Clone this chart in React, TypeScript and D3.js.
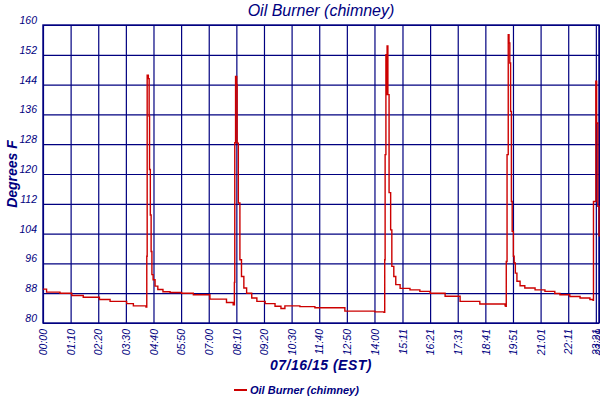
import { useRef, useEffect } from "react";
import * as d3 from "d3";

// minutes since midnight of each reading
const sampleMinutes: number[] = [
  0, 9, 43, 73, 102, 143, 170, 212, 229, 261, 263, 264, 267, 269, 270, 272, 274, 276, 279, 284,
  291, 304, 322, 351, 381, 423, 465, 482, 485, 486, 488, 491, 492, 495, 499, 503, 509, 516, 529, 542,
  563, 588, 603, 613, 631, 651, 689, 765, 841, 864, 866, 867, 869, 871, 872, 874, 877, 881, 884, 889,
  894, 905, 930, 955, 981, 1019, 1057, 1107, 1171, 1173, 1174, 1176, 1179, 1181, 1183, 1185, 1187, 1189, 1192, 1194,
  1197, 1201, 1209, 1221, 1247, 1272, 1297, 1310, 1335, 1361, 1386, 1394, 1395, 1401, 1403, 1406, 1409,
];

// chimney temperature, degrees F
const sampleTemps: number[] = [
  89.1, 88.3, 88.0, 87.4, 86.9, 86.3, 85.8, 85.2, 84.6, 84.3, 97.9, 146.5, 145.6, 135.5, 121.2, 109, 99.2, 93, 91.6, 89.9,
  89.0, 88.4, 88.2, 88.0, 87.6, 86.4, 85.5, 84.9, 90.9, 128.4, 146.2, 144.0, 128.3, 112.2, 97, 92.5, 89.4, 88.0, 86.7, 85.8,
  85.2, 84.5, 83.9, 84.6, 84.6, 84.4, 84.1, 83.2, 83.0, 82.9, 97, 125.2, 152, 141.3, 154.4, 141.3, 115, 105, 95.2, 92.5,
  90.3, 89.3, 88.9, 88.5, 88.0, 87.2, 85.8, 85.1, 84.6, 84.5, 96.5, 125.2, 157.4, 155.2, 149.8, 136.8, 112.6, 104.6, 97.9, 96.1,
  93.4, 91.2, 90.0, 89.4, 88.9, 88.5, 87.9, 87.6, 87.1, 86.7, 86.3, 86.1, 112.6, 144.9, 133.7, 111.3, 103.2,
];

const tickMinutes: number[] = [
  0, 70, 140, 210, 280, 350, 420, 490, 560, 630, 700, 770, 840, 911, 981, 1051, 1121, 1191, 1261, 1331, 1401, 1409,
];
const tickLabels: string[] = [
  "00:00", "01:10", "02:20", "03:30", "04:40", "05:50", "07:00", "08:10", "09:20", "10:30", "11:40",
  "12:50", "14:00", "15:11", "16:21", "17:31", "18:41", "19:51", "21:01", "22:11", "23:21", "23:29",
];
const yTicks: number[] = [80, 88, 96, 104, 112, 120, 128, 136, 144, 152, 160];

const seriesName = "Oil Burner (chimney)";
const dateLabel = "07/16/15 (EST)";

export default function App() {
  const svgRef = useRef<SVGSVGElement>(null);

  useEffect(() => {
    const width = 600;
    const height = 400;
    const margin = { top: 25, right: 1, bottom: 77, left: 43 };
    const innerWidth = width - margin.left - margin.right;
    const innerHeight = height - margin.top - margin.bottom;
    const navy = "#000080";
    const font = "'Liberation Sans', Arial, sans-serif";

    const svg = d3.select(svgRef.current);
    svg.selectAll("*").remove();

    const g = svg.append("g")
      .attr("transform", `translate(${margin.left},${margin.top})`);

    const xScale = d3.scaleLinear()
      .domain([0, tickMinutes[tickMinutes.length - 1]])
      .range([0, innerWidth]);

    const yScale = d3.scaleLinear()
      .domain([80, 160])
      .range([innerHeight, 0]);

    // horizontal grid + y labels
    g.append("g")
      .call(d3.axisLeft(yScale).tickValues(yTicks).tickSize(-innerWidth).tickPadding(6).tickFormat(d3.format("d")))
      .call(ax => ax.select(".domain").remove())
      .call(ax => ax.selectAll("line").attr("stroke", navy).attr("stroke-width", 1.2))
      .call(ax => ax.selectAll("text")
        .attr("fill", navy)
        .attr("font-family", font)
        .attr("font-style", "italic")
        .attr("font-size", "10.5px")
        .attr("dy", "-0.15em"));

    // vertical grid + rotated time labels
    g.append("g")
      .attr("transform", `translate(0,${innerHeight})`)
      .call(d3.axisBottom(xScale).tickValues(tickMinutes).tickSize(-innerHeight).tickFormat((_, i) => tickLabels[i]))
      .call(ax => ax.select(".domain").remove())
      .call(ax => ax.selectAll("line").attr("stroke", navy).attr("stroke-width", 1.2))
      .call(ax => ax.selectAll("text")
        .attr("fill", navy)
        .attr("font-family", font)
        .attr("font-style", "italic")
        .attr("font-size", "10.5px")
        .attr("text-anchor", "end")
        .attr("transform", "rotate(-90)")
        .attr("x", -6)
        .attr("y", 0)
        .attr("dy", "0.35em"));

    // frame
    g.append("rect")
      .attr("width", innerWidth)
      .attr("height", innerHeight)
      .attr("fill", "none")
      .attr("stroke", navy)
      .attr("stroke-width", 1.4);

    const points = sampleMinutes.map((m, i) => [m, sampleTemps[i]] as [number, number]);

    // readings are held until the next one, like the logger's plot
    const lineGen = d3.line<[number, number]>()
      .x(d => xScale(d[0]))
      .y(d => yScale(d[1]))
      .curve(d3.curveStepAfter);

    g.append("path")
      .datum(points)
      .attr("fill", "none")
      .attr("stroke", "#cc0000")
      .attr("stroke-width", 1.4)
      .attr("d", lineGen);

    // title
    svg.append("text")
      .attr("x", margin.left + innerWidth / 2)
      .attr("y", 16)
      .attr("text-anchor", "middle")
      .attr("fill", navy)
      .attr("font-family", font)
      .attr("font-style", "italic")
      .attr("font-size", "16px")
      .text(seriesName);

    // y title
    svg.append("text")
      .attr("transform", `translate(17,${margin.top + innerHeight / 2}) rotate(-90)`)
      .attr("text-anchor", "middle")
      .attr("fill", navy)
      .attr("font-family", font)
      .attr("font-style", "italic")
      .attr("font-weight", "bold")
      .attr("font-size", "14px")
      .text("Degrees F");

    // x title
    svg.append("text")
      .attr("x", margin.left + innerWidth / 2)
      .attr("y", 370)
      .attr("text-anchor", "middle")
      .attr("fill", navy)
      .attr("font-family", font)
      .attr("font-style", "italic")
      .attr("font-weight", "bold")
      .attr("font-size", "14px")
      .attr("letter-spacing", "0.5px")
      .text(dateLabel);

    // legend
    const legend = svg.append("g").attr("transform", "translate(234,390)");
    legend.append("line")
      .attr("x1", 0)
      .attr("x2", 13)
      .attr("stroke", "#cc0000")
      .attr("stroke-width", 2);
    legend.append("text")
      .attr("x", 16)
      .attr("y", 4)
      .attr("fill", navy)
      .attr("font-family", font)
      .attr("font-style", "italic")
      .attr("font-weight", "bold")
      .attr("font-size", "11px")
      .text(seriesName);
  }, []);

  return (
    <svg
      ref={svgRef}
      width={600}
      height={400}
      style={{ position: "absolute", left: 0, top: 0, background: "#fff" }}
    />
  );
}
